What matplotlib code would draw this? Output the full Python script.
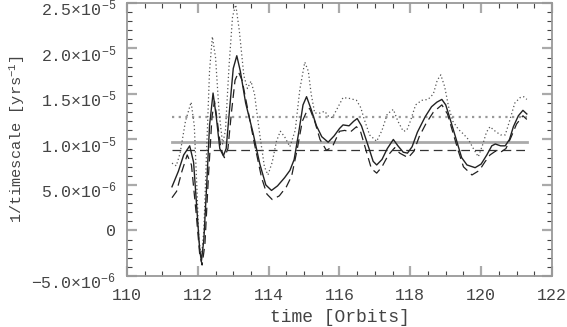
import numpy as np
import matplotlib
matplotlib.use('Agg')
import matplotlib.pyplot as plt
import matplotlib.transforms as mtrans
from matplotlib.ticker import MultipleLocator, FuncFormatter

# solid curve (units of 1e-6 yr^-1)
t_solid = [111.27, 111.45, 111.6, 111.77, 111.88, 111.97, 112.05, 112.1, 112.17, 112.25,
           112.33, 112.43, 112.52, 112.62, 112.72, 112.8, 112.9, 113.0, 113.1, 113.2,
           113.35, 113.56, 113.75, 113.92, 114.08, 114.25, 114.45, 114.6, 114.72, 114.85,
           114.97, 115.07, 115.2, 115.35, 115.5, 115.68, 115.85, 116.0, 116.1, 116.27,
           116.4, 116.5, 116.62, 116.75, 116.86, 116.95, 117.05, 117.2, 117.35, 117.52,
           117.65, 117.8, 117.92, 118.05, 118.2, 118.42, 118.6, 118.75, 118.89, 119.0,
           119.12, 119.22, 119.35, 119.45, 119.6, 119.83, 120.0, 120.16, 120.3, 120.4,
           120.55, 120.68, 120.8, 120.91, 121.05, 121.18, 121.29]
v_solid = [4.8, 6.5, 8.3, 9.3, 7.5, 2.5, -2.0, -3.4, -1.0, 5.0,
           11.5, 15.1, 12.5, 9.0, 8.2, 9.0, 13.5, 17.8, 19.2, 17.5,
           14.0, 10.7, 7.3, 5.0, 4.4, 4.9, 5.8, 6.6, 7.8, 10.8,
           13.8, 14.7, 13.3, 11.5, 10.3, 9.7, 10.4, 11.2, 11.6, 11.5,
           12.0, 12.3, 11.5, 10.0, 8.7, 7.6, 7.2, 7.8, 9.0, 10.0,
           9.3, 8.6, 8.5, 9.2, 10.8, 12.5, 13.6, 14.1, 14.4, 13.8,
           12.3, 11.0, 9.3, 8.0, 7.2, 6.9, 7.3, 8.3, 9.3, 9.5,
           9.3, 9.3, 10.0, 11.4, 12.6, 13.2, 12.8]

# dashed curve
t_dash = [111.27, 111.4, 111.55, 111.7, 111.82, 111.95, 112.05, 112.12, 112.2, 112.3,
          112.4, 112.47, 112.55, 112.65, 112.75, 112.85, 112.95, 113.05, 113.15, 113.25,
          113.4, 113.6, 113.8, 113.95, 114.1, 114.3, 114.5, 114.65, 114.8, 114.95,
          115.1, 115.16, 115.3, 115.45, 115.63, 115.8, 116.0, 116.15, 116.3, 116.48,
          116.6, 116.75, 116.9, 117.05, 117.2, 117.38, 117.56, 117.7, 117.94, 118.1,
          118.25, 118.45, 118.65, 118.89, 119.05, 119.2, 119.35, 119.5, 119.74, 119.95,
          120.1, 120.25, 120.4, 120.55, 120.7, 120.85, 121.0, 121.18, 121.29]
v_dash = [3.6, 4.3, 6.5, 8.3, 7.2, 2.0, -2.5, -3.8, -1.5, 6.0,
          12.5, 14.2, 12.0, 9.0, 8.0, 9.0, 13.0, 16.5, 17.4, 16.5,
          13.5, 9.5, 5.8, 4.0, 3.4, 3.8, 4.8, 6.0, 8.8, 12.0,
          13.3, 13.4, 12.0, 10.0, 8.8, 9.2, 10.9, 11.0, 10.8, 11.4,
          10.8, 8.8, 6.8, 6.3, 7.0, 8.3, 9.1, 8.5, 8.0, 8.7,
          10.3, 11.8, 13.0, 13.8, 12.8, 10.8, 8.8, 7.0, 6.1, 6.6,
          7.5, 8.3, 8.7, 8.6, 9.0, 10.3, 11.7, 12.6, 12.2]

# dotted curve
t_dot = [111.27, 111.39, 111.5, 111.65, 111.81, 111.9, 111.97, 112.03, 112.1, 112.17,
         112.25, 112.33, 112.41, 112.5, 112.6, 112.7, 112.78, 112.88, 112.98, 113.07,
         113.17, 113.3, 113.4, 113.5, 113.6, 113.75, 113.88, 113.98, 114.1, 114.22,
         114.33, 114.45, 114.6, 114.75, 114.88, 115.02, 115.12, 115.2, 115.3, 115.45,
         115.58, 115.7, 115.8, 115.95, 116.1, 116.3, 116.48, 116.6, 116.7, 116.85,
         117.05, 117.2, 117.35, 117.52, 117.65, 117.8, 117.9, 118.0, 118.15, 118.32,
         118.5, 118.65, 118.76, 118.86, 118.97, 119.08, 119.2, 119.36, 119.5, 119.64,
         119.78, 119.92, 120.05, 120.15, 120.25, 120.4, 120.55, 120.68, 120.8, 120.95,
         121.1, 121.2, 121.29]
v_dot = [7.4, 7.1, 8.5, 12.0, 14.1, 11.5, 5.0, -1.0, -3.0, 0.0,
         9.0, 17.5, 21.3, 19.0, 13.0, 9.5, 11.0, 18.0, 23.5, 24.8,
         22.0, 17.0, 15.6, 16.4, 15.0, 10.5, 7.0, 6.1, 7.5, 9.8,
         10.9, 10.3, 9.2, 11.0, 15.5, 18.5, 17.5, 15.0, 12.9, 12.9,
         13.1, 12.5, 12.4, 13.5, 14.6, 14.5, 14.3, 13.5, 12.2, 10.5,
         9.8, 11.0, 12.8, 13.3, 12.0, 10.9, 11.0, 12.0, 13.8, 14.3,
         14.4, 15.0, 16.5, 17.1, 15.8, 13.6, 12.0, 11.1, 10.6, 10.0,
         9.0, 8.1, 9.5, 10.8, 11.4, 10.9, 10.5, 10.5, 12.0, 14.0,
         14.6, 14.7, 14.4]

# time averages
t_span = [111.27, 121.29]
avg_dot = 12.5
avg_solid = 9.75
avg_dash = 8.8

plt.rcParams['font.family'] = 'Liberation Mono'
plt.rcParams['mathtext.fontset'] = 'custom'
plt.rcParams['mathtext.rm'] = 'Liberation Mono'
plt.rcParams['mathtext.it'] = 'Liberation Mono'
plt.rcParams['mathtext.bf'] = 'Liberation Mono'

fig = plt.figure(figsize=(5.67, 3.27), dpi=100)
ax = fig.add_axes([0.224, 0.156, 0.7495, 0.835])

sc = 1e-6
ax.plot(t_span, [avg_dot * sc] * 2, color='#999999', lw=1.6, ls=(0, (1, 2)))
ax.plot(t_span, [avg_solid * sc] * 2, color='#aaaaaa', lw=2.0, ls='-')
ax.plot(t_span, [avg_dash * sc] * 2, color='#333333', lw=0.9, ls=(0, (7, 4)))

ax.plot(t_dot, np.array(v_dot) * sc, color='#555555', lw=0.9, ls=(0, (1, 2)))
ax.plot(t_solid, np.array(v_solid) * sc, color='#222222', lw=1.0, ls='-')
ax.plot(t_dash, np.array(v_dash) * sc, color='#222222', lw=0.9, ls=(0, (7, 4)))

ax.set_xlim(110, 122)
ax.set_ylim(-5e-6, 2.5e-5)
ax.xaxis.set_major_locator(MultipleLocator(2))
ax.xaxis.set_minor_locator(MultipleLocator(0.5))
ax.yaxis.set_major_locator(MultipleLocator(5e-6))
ax.yaxis.set_minor_locator(MultipleLocator(1e-6))


def fmt(v, pos):
    if abs(v) < 1e-12:
        return '0'
    e = int(np.floor(np.log10(abs(v)) + 1e-9))
    m = v / 10**e
    return r'$%.1f{\times}10^{%d}$' % (m, e)


ax.yaxis.set_major_formatter(FuncFormatter(fmt))
ax.tick_params(which='both', direction='in', top=True, right=True,
               labelsize=12, labelcolor='#444444')
ax.tick_params(axis='y', pad=8)
ax.tick_params(axis='x', pad=9)
ax.tick_params(which='major', length=7, width=1.6, color='#aaaaaa')
ax.tick_params(which='minor', length=3.5, width=0.8, color='#444444')
for s in ax.spines.values():
    s.set_color('#999999')
    s.set_linewidth(1.3)

# base of the y labels sits on the tick, exponent above
shift = mtrans.ScaledTranslation(0, -3 / 72, fig.dpi_scale_trans)
for lab in ax.get_yticklabels():
    if lab.get_text() != '0':
        lab.set_transform(lab.get_transform() + shift)

ax.set_xlabel('time [Orbits]', fontsize=13, color='#444444', labelpad=4)
ax.set_ylabel(r'1/timescale [yrs$^{-1}$]', fontsize=11, color='#444444', labelpad=3)

fig.savefig('out.png', dpi=100)
